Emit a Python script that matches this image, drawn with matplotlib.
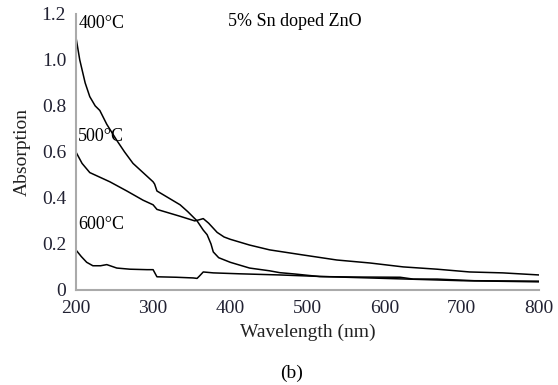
import matplotlib
matplotlib.use("Agg")
import matplotlib.pyplot as plt
from matplotlib.ticker import FixedLocator, FuncFormatter

plt.rcParams['font.family'] = ['Liberation Serif', 'DejaVu Serif']

wl400 = [200, 205, 212, 218, 225, 231, 240, 253, 263, 274, 287, 300, 302, 305, 320, 335, 345, 357, 365, 370, 375, 378, 385, 400, 425, 451, 464, 484, 516, 560, 620, 637, 668, 716, 800]
abs400 = [1.10, 1.00, 0.90, 0.84, 0.80, 0.78, 0.72, 0.65, 0.60, 0.55, 0.51, 0.47, 0.46, 0.43, 0.40, 0.37, 0.34, 0.30, 0.26, 0.24, 0.20, 0.165, 0.14, 0.12, 0.095, 0.083, 0.075, 0.069, 0.058, 0.056, 0.055, 0.047, 0.047, 0.040, 0.038]

wl500 = [200, 208, 218, 231, 244, 266, 287, 300, 305, 320, 335, 354, 360, 365, 372, 383, 392, 400, 425, 451, 494, 538, 581, 624, 668, 710, 753, 800]
abs500 = [0.60, 0.55, 0.51, 0.49, 0.47, 0.43, 0.39, 0.37, 0.35, 0.335, 0.32, 0.30, 0.305, 0.31, 0.29, 0.25, 0.23, 0.22, 0.195, 0.174, 0.152, 0.13, 0.117, 0.10, 0.09, 0.078, 0.074, 0.065]

wl600 = [200, 207, 214, 222, 232, 240, 253, 270, 292, 300, 305, 330, 352, 357, 360, 365, 378, 412, 464, 520, 600, 650, 700, 800]
abs600 = [0.174, 0.145, 0.12, 0.105, 0.105, 0.11, 0.095, 0.09, 0.088, 0.088, 0.057, 0.055, 0.052, 0.050, 0.060, 0.078, 0.074, 0.070, 0.065, 0.058, 0.050, 0.045, 0.040, 0.035]

xticks = [200, 300, 400, 500, 600, 700, 800]
yticks = [0, 0.2, 0.4, 0.6, 0.8, 1.0, 1.2]

fig = plt.figure(figsize=(5.58, 3.85), dpi=100)
ax = fig.add_axes([0.136, 0.247, 0.830, 0.717])

for x, y in [(wl400, abs400), (wl500, abs500), (wl600, abs600)]:
    ax.plot(x, y, color='black', lw=1.1)

ax.set_xlim(200, 800)
ax.set_ylim(0, 1.2)
ax.xaxis.set_major_locator(FixedLocator(xticks))
ax.yaxis.set_major_locator(FixedLocator(yticks))
ax.yaxis.set_major_formatter(FuncFormatter(lambda v, p: '0' if v == 0 else f'{v:.1f}'))
ax.tick_params(length=0, labelsize=14, colors='#222233')
ax.tick_params(axis='y', pad=7)
ax.tick_params(axis='x', pad=7)
for s in ['top', 'right']:
    ax.spines[s].set_visible(False)
for s in ['left', 'bottom']:
    ax.spines[s].set_color('#aaaaaa')
    ax.spines[s].set_linewidth(1.5)

ax.set_xlabel('Wavelength (nm)', fontsize=14, color='#222222', labelpad=5)
ax.set_ylabel('Absorption', fontsize=14, color='#222222', labelpad=8)

ax.text(203, 1.16, '400°C', fontsize=13, va='center', ha='left')
ax.text(203, 0.665, '500°C', fontsize=13, va='center', ha='left')
ax.text(203, 0.283, '600°C', fontsize=13, va='center', ha='left')
ax.text(397, 1.165, '5% Sn doped ZnO', fontsize=13, va='center', ha='left')

fig.text(0.523, 0.029, '(b)', fontsize=14, ha='center', va='center')

fig.savefig('out.png', dpi=100)
